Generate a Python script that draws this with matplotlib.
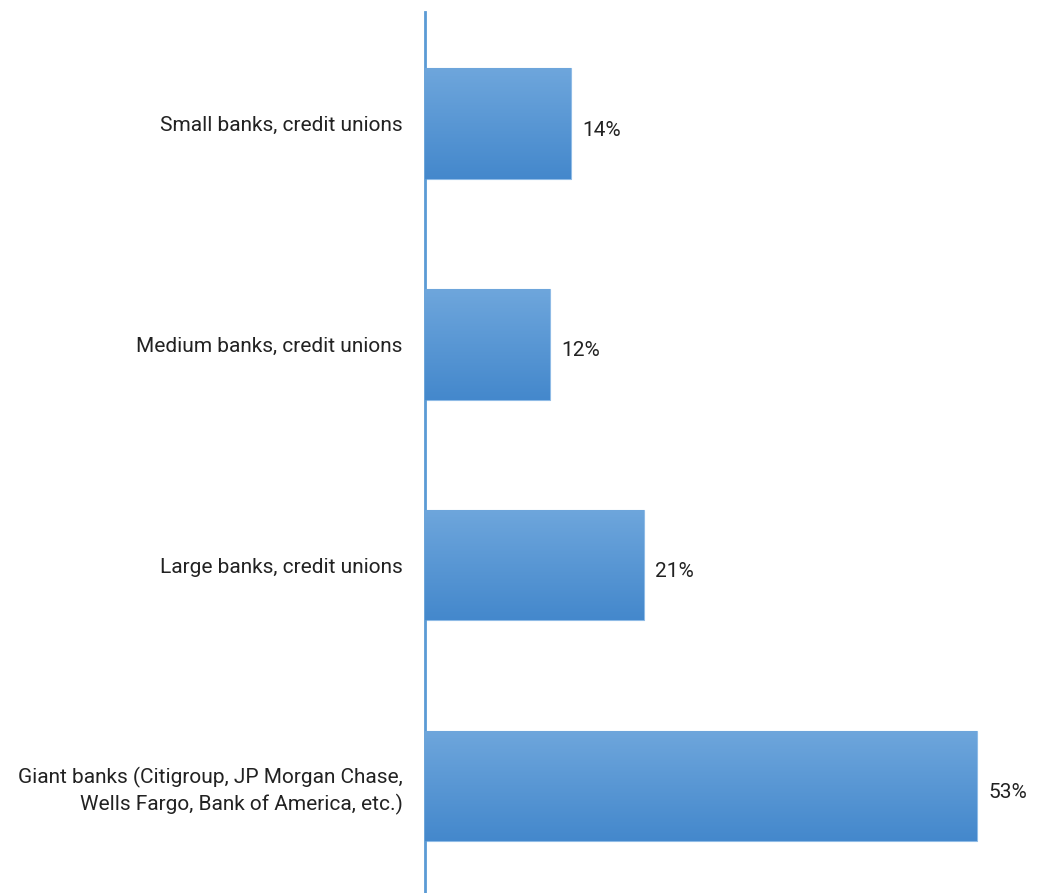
import numpy as np
import matplotlib.pyplot as plt
from matplotlib.colors import LinearSegmentedColormap

categories = [
    "Small banks, credit unions",
    "Medium banks, credit unions",
    "Large banks, credit unions",
    "Giant banks (Citigroup, JP Morgan Chase,\nWells Fargo, Bank of America, etc.)",
]
values = [14, 12, 21, 53]
value_labels = ["14%", "12%", "21%", "53%"]

plt.rcParams['font.family'] = ['Roboto', 'DejaVu Sans']

fig = plt.figure(figsize=(10.4, 8.93), dpi=100)
ax = fig.add_axes([425 / 1040, 0.0, 615 / 1040, 881 / 893])

pos = np.arange(len(categories))
bars = ax.barh(pos, values, height=0.5, color='#5b9bd5', edgecolor='#8fbbe6',
               linewidth=0.8, zorder=2)

# vertical gradient, lighter at the top of each bar
grad = LinearSegmentedColormap.from_list('g', ['#6ea6dc', '#4488cc'])
g = np.linspace(0, 1, 100).reshape(-1, 1)
for b in bars:
    x0, y0 = b.get_x(), b.get_y()
    w, h = b.get_width(), b.get_height()
    im = ax.imshow(g, cmap=grad, aspect='auto', extent=[x0, x0 + w, y0 + h, y0],
                   zorder=3, interpolation='bicubic')
    im.set_clip_path(b)

for p, v, lab in zip(pos, values, value_labels):
    ax.text(v + 1.1, p + 0.03, lab, va='center', ha='left', fontsize=15,
            color='#222222')

ax.set_xlim(0, 59.1)
ax.set_ylim(3.485, -0.505)
ax.set_yticks(pos)
ax.set_yticklabels(categories, fontsize=15, color='#222222', linespacing=1.35)
ax.tick_params(axis='y', length=0, pad=16)
ax.set_xticks([])

for s in ['top', 'right', 'bottom']:
    ax.spines[s].set_visible(False)
ax.spines['left'].set_color('#5b9bd5')
ax.spines['left'].set_linewidth(2)

fig.savefig('out.png', dpi=100, facecolor='white')
